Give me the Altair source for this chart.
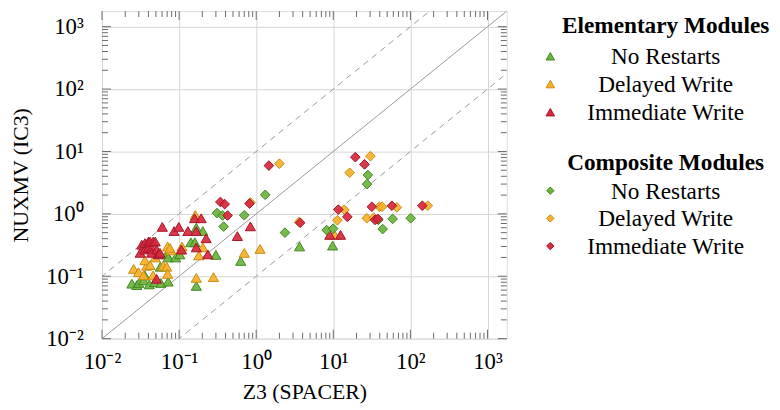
import altair as alt
import pandas as pd

# ---------------- data ----------------
series_names = ["No Restarts", "Delayed Write", "Immediate Write"]

# Elementary modules (triangles)
elem_norestart_x = [0.0244, 0.0283, 0.030, 0.0345, 0.036, 0.041, 0.048, 0.058, 0.072, 0.167, 0.057, 0.069,
                    0.072, 0.090, 0.102, 0.142, 0.160, 0.167, 0.203, 0.30, 0.63, 3.65, 9.8]
elem_norestart_y = [0.076, 0.072, 0.078, 0.086, 0.103, 0.074, 0.080, 0.078, 0.082, 0.070, 0.142, 0.224,
                    0.20, 0.20, 0.224, 0.35, 0.35, 0.60, 0.53, 0.22, 0.176, 0.30, 0.31]

elem_delayed_x = [0.0257, 0.0297, 0.0345, 0.038, 0.046, 0.036, 0.042, 0.049, 0.062, 0.069, 0.071, 0.071,
                  0.078, 0.076, 0.107, 0.109, 0.18, 0.203, 0.162, 0.167, 0.279, 0.70, 1.12, 10.4]
elem_delayed_y = [0.131, 0.116, 0.103, 0.147, 0.103, 0.18, 0.151, 0.20, 0.147, 0.142, 0.109, 0.30,
                  0.26, 0.284, 0.268, 0.30, 0.216, 0.29, 0.96, 0.094, 0.097, 0.237, 0.274, 0.46]

elem_immediate_x = [0.0313, 0.0328, 0.036, 0.036, 0.040, 0.040, 0.042, 0.044, 0.044, 0.046, 0.049, 0.051,
                    0.054, 0.0565, 0.0605, 0.086, 0.099, 0.13, 0.167, 0.159, 0.193, 0.224, 0.167, 0.107,
                    0.236, 0.051, 0.57, 0.84, 9.0, 12.4]
elem_immediate_y = [0.237, 0.32, 0.268, 0.34, 0.36, 0.284, 0.36, 0.284, 0.237, 0.36, 0.36, 0.268,
                    0.224, 0.237, 0.618, 0.53, 0.618, 0.53, 0.53, 0.85, 0.85, 0.406, 0.29, 0.268,
                    0.224, 0.091, 0.44, 0.63, 0.46, 0.46]

# Composite modules (diamonds)
comp_norestart_x = [0.31, 0.366, 0.378, 0.70, 1.31, 2.36, 8.2, 9.97, 28.1, 27.4, 38.4, 43.7, 58.8, 101]
comp_norestart_y = [1.03, 0.94, 0.625, 0.95, 2.02, 0.50, 0.55, 0.58, 4.19, 3.0, 0.80, 0.57, 0.83, 0.85]

comp_delayed_x = [0.84, 2.0, 3.6, 11.3, 13.9, 16.3, 27.2, 30.3, 39.5, 43, 66.7, 168, 33.5]
comp_delayed_y = [1.52, 6.37, 0.74, 0.79, 1.16, 4.56, 0.85, 8.4, 1.30, 1.30, 1.27, 1.35, 0.87]

comp_immediate_x = [0.343, 0.39, 0.425, 0.82, 1.46, 3.72, 11.6, 15.2, 19.3, 25.4, 31.6, 34.8, 37.8, 57.5, 142.6]
comp_immediate_y = [1.55, 1.43, 0.94, 1.46, 5.93, 0.72, 1.17, 0.895, 8.1, 6.2, 1.30, 0.80, 0.83, 1.35, 1.35]

# axis ticks
major_ticks = [0.01, 0.1, 1, 10, 100, 1000]
minor_ticks = [m * d for d in [0.01, 0.1, 1, 10, 100, 1000] for m in range(2, 10) if m * d < 1778]

# reference diagonals (y = x, y = 10x, y = x/10)
diag_x = [0.001, 10000]
diag_same_y = [0.001, 10000]
diag_above_y = [0.01, 100000]
diag_below_y = [0.0001, 1000]

# ---------------- styling ----------------
FONT = "Liberation Serif"
W, H = 409, 331
XMAX = 1778.28
fills = ["#6cb33f", "#f6b12b", "#d8283c"]
strokes = ["#3e8a1e", "#c98a10", "#a3162a"]
GRID = "#d4d4d4"
TICK = "#6a6a6a"
REF = "#9a9a9a"

rows = []
for mod, name, xs, ys in [
    ("Elementary", series_names[0], elem_norestart_x, elem_norestart_y),
    ("Elementary", series_names[1], elem_delayed_x, elem_delayed_y),
    ("Elementary", series_names[2], elem_immediate_x, elem_immediate_y),
    ("Composite", series_names[0], comp_norestart_x, comp_norestart_y),
    ("Composite", series_names[1], comp_delayed_x, comp_delayed_y),
    ("Composite", series_names[2], comp_immediate_x, comp_immediate_y),
]:
    for xv, yv in zip(xs, ys):
        rows.append({"module": mod, "series": name, "x": xv, "y": yv})
df = pd.DataFrame(rows)

xscale = alt.Scale(type="log", domain=[0.01, XMAX], nice=False)
yscale = alt.Scale(type="log", domain=[0.01, XMAX], nice=False)

lab = ("datum.value < 0.05 ? '10⁻²' : datum.value < 0.5 ? '10⁻¹' : datum.value < 5 ? '10⁰' : "
       "datum.value < 50 ? '10¹' : datum.value < 500 ? '10²' : '10³'")

x_axis = alt.Axis(values=major_ticks, labelExpr=lab, title="Z3 (SPACER)", grid=True, gridColor=GRID,
                  ticks=False, tickSize=0, domain=False, labelPadding=12, titlePadding=8,
                  labelFont=FONT, labelFontSize=23, labelColor="black", titleFont=FONT,
                  titleFontSize=22, titleFontWeight="normal", titleColor="black", labelFlush=False)
y_axis = alt.Axis(values=major_ticks, labelExpr=lab, title="NUXMV (IC3)", grid=True, gridColor=GRID,
                  ticks=False, tickSize=0, domain=False, labelPadding=19, titlePadding=13,
                  labelFont=FONT, labelFontSize=23, labelColor="black", titleFont=FONT,
                  titleFontSize=22, titleFontWeight="normal", titleColor="black", labelFlush=False)


def X(field):
    return alt.X(field, scale=xscale, axis=x_axis)


def Y(field):
    return alt.Y(field, scale=yscale, axis=y_axis)


fill_enc = alt.Fill("series:N", scale=alt.Scale(domain=series_names, range=fills), legend=None)
stroke_enc = alt.Stroke("series:N", scale=alt.Scale(domain=series_names, range=strokes), legend=None)

base = alt.Chart(df)
tri = base.transform_filter(alt.datum.module == "Elementary").mark_point(
    shape="triangle-up", filled=True, size=105, strokeWidth=1, fillOpacity=0.92, opacity=1
).encode(x=X("x:Q"), y=Y("y:Q"), fill=fill_enc, stroke=stroke_enc)
dia = base.transform_filter(alt.datum.module == "Composite").mark_point(
    shape="diamond", filled=True, size=95, strokeWidth=1, fillOpacity=0.92, opacity=1
).encode(x=X("x:Q"), y=Y("y:Q"), fill=fill_enc, stroke=stroke_enc)


def diag(ys, dash):
    d = pd.DataFrame({"x": diag_x, "y": ys})
    kw = dict(color=REF, strokeWidth=1, clip=True)
    if dash:
        kw["strokeDash"] = [6, 5]
    return alt.Chart(d).mark_line(**kw).encode(x=X("x:Q"), y=Y("y:Q"))


ref_layers = [diag(diag_same_y, False), diag(diag_above_y, True), diag(diag_below_y, True)]


def ticks(values, length):
    d = pd.DataFrame({"v": values})
    c = alt.Chart(d).mark_rule(color=TICK, strokeWidth=1)
    return [
        c.encode(x=X("v:Q"), y=alt.value(H), y2=alt.value(H - length)),
        c.encode(x=X("v:Q"), y=alt.value(0), y2=alt.value(length)),
        c.encode(y=Y("v:Q"), x=alt.value(0), x2=alt.value(length)),
        c.encode(y=Y("v:Q"), x=alt.value(W), x2=alt.value(W - length)),
    ]


tick_layers = ticks(major_ticks, 9) + ticks(minor_ticks, 6)

# ---------------- legend (drawn beside the plot) ----------------
SYM_X = 453
TXT_X = 569.5
# (kind, text, shape, colour index, text baseline y)
legend_spec = [
    ("title", "Elementary Modules", None, 0, 21.7),
    ("entry", series_names[0], "triangle-up", 0, 53.7),
    ("entry", series_names[1], "triangle-up", 1, 81.8),
    ("entry", series_names[2], "triangle-up", 2, 110.2),
    ("title", "Composite Modules", None, 0, 160.5),
    ("entry", series_names[0], "diamond", 0, 189.5),
    ("entry", series_names[1], "diamond", 1, 217.5),
    ("entry", series_names[2], "diamond", 2, 245.5),
]
legend_layers = []
for kind, text, shape, idx, ypos in legend_spec:
    d = alt.Data(values=[{"t": text}])
    if kind == "title":
        legend_layers.append(alt.Chart(d).mark_text(
            font=FONT, fontSize=23.5, fontWeight="bold", align="center", baseline="alphabetic",
            color="black"
        ).encode(text="t:N", x=alt.value(TXT_X), y=alt.value(ypos)))
    else:
        legend_layers.append(alt.Chart(d).mark_point(
            shape=shape, filled=True, fill=fills[idx], stroke=strokes[idx], strokeWidth=1,
            size=75 if shape == "triangle-up" else 55, opacity=1
        ).encode(x=alt.value(SYM_X), y=alt.value(ypos - 8)))
        legend_layers.append(alt.Chart(d).mark_text(
            font=FONT, fontSize=23.5, align="center", baseline="alphabetic", color="black"
        ).encode(text="t:N", x=alt.value(TXT_X), y=alt.value(ypos)))

chart = alt.layer(*ref_layers, *tick_layers, tri, dia, *legend_layers).properties(
    width=W, height=H,
    autosize=alt.AutoSizeParams(type="none"),
    padding={"left": 95, "top": 1, "right": 268, "bottom": 70},
).configure_view(stroke="black", strokeWidth=1.1).configure(background="white")

chart.save("out.html", embed_options={"renderer": "svg", "actions": False})
